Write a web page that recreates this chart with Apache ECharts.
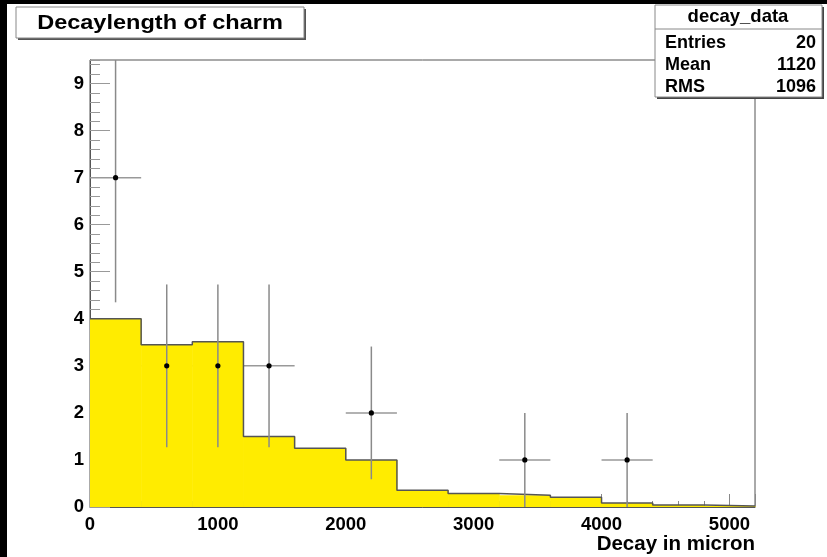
<!DOCTYPE html>
<html>
<head>
<meta charset="utf-8">
<script src="https://cdn.jsdelivr.net/npm/echarts@6/dist/echarts.min.js"></script>
<style>
html,body{margin:0;padding:0;background:#fff;}
#chart{width:827px;height:557px;}
</style>
</head>
<body>
<div id="chart"></div>
<script>
// ---- data ----
const binStarts = [0, 400, 800, 1200, 1600, 2000, 2400, 2800, 3200, 3600, 4000, 4400, 4800];
const binWidth = 400;
const histValues = [4.0, 3.45, 3.51, 1.50, 1.25, 1.0, 0.355, 0.285, 0.25, 0.206, 0.085, 0.04, 0.02];
const pointX = [200, 600, 1000, 1400, 2200, 3400, 4200];
const pointY = [7, 3, 3, 3, 2, 1, 1];
const pointErr = [2.65, 1.73, 1.73, 1.73, 1.41, 1.0, 1.0];
const titleText = 'Decaylength of charm';
const statsName = 'decay_data';
const statsLabels = ['Entries', 'Mean', 'RMS'];
const statsValues = ['20', '1120', '1096'];
const xTitle = 'Decay in micron';

const FONT = '"Liberation Sans", Arial, Helvetica, sans-serif';
const chart = echarts.init(document.getElementById('chart'));

const histData = binStarts.map((s, i) => [s, s + binWidth, histValues[i]]);
const outlineData = binStarts.map((s, i) => [s, histValues[i]]);
outlineData.push([binStarts[binStarts.length - 1] + binWidth, histValues[histValues.length - 1]]);
const errData = pointX.map((x, i) => [x, pointY[i], pointErr[i]]);
const hErrData = pointX.map((x, i) => [x, pointY[i], binWidth / 2]);

const statsGraphics = [];
statsGraphics.push({type: 'rect', shape: {x: 657, y: 7, width: 167, height: 92}, style: {fill: '#444'}, z: 50});
statsGraphics.push({type: 'rect', shape: {x: 655, y: 5, width: 167, height: 92}, style: {fill: '#fff', stroke: '#888', lineWidth: 1}, z: 51});
statsGraphics.push({type: 'line', shape: {x1: 655, y1: 29, x2: 822, y2: 29}, style: {stroke: '#888', lineWidth: 1}, z: 52});
statsGraphics.push({type: 'text', x: 738, y: 17, style: {text: statsName, font: 'bold 18.5px ' + FONT, fill: '#000', align: 'center', verticalAlign: 'middle'}, z: 52});
statsLabels.forEach((l, i) => {
  const y = 43 + i * 22;
  statsGraphics.push({type: 'text', x: 665, y: y, style: {text: l, font: 'bold 18px ' + FONT, fill: '#000', align: 'left', verticalAlign: 'middle'}, z: 52});
  statsGraphics.push({type: 'text', x: 816, y: y, style: {text: statsValues[i], font: 'bold 18px ' + FONT, fill: '#000', align: 'right', verticalAlign: 'middle'}, z: 52});
});

const option = {
  backgroundColor: '#fff',
  animation: false,
  grid: {left: 90, right: 72, top: 60, bottom: 50, show: true, borderColor: '#555', borderWidth: 1, backgroundColor: '#fff'},
  xAxis: [{
    type: 'value', min: 0, max: 5200, interval: 1000, position: 'bottom',
    name: xTitle, nameLocation: 'end', nameGap: 0,
    nameTextStyle: {fontFamily: FONT, fontWeight: 'bold', fontSize: 20.5, color: '#000', align: 'right', verticalAlign: 'top', padding: [27, 0, 0, 0]},
    axisLine: {show: true, onZero: false, lineStyle: {color: '#555', width: 1}},
    axisTick: {show: true, inside: true, length: 13, lineStyle: {color: '#888', width: 1}},
    axisLabel: {show: true, margin: 8, fontFamily: FONT, fontWeight: 'bold', fontSize: 18.5, color: '#000',
      formatter: v => (v % 1000 === 0 ? String(v) : '')},
    splitLine: {show: false}
  }, {
    type: 'value', min: 0, max: 5200, interval: 200, position: 'bottom', gridIndex: 0,
    axisLine: {show: false, onZero: false},
    axisTick: {show: true, inside: true, length: 6, lineStyle: {color: '#888', width: 1}},
    axisLabel: {show: false}, splitLine: {show: false}
  }],
  yAxis: [{
    type: 'value', min: 0, max: 9.5, interval: 1, position: 'left',
    axisLine: {show: true, onZero: false, lineStyle: {color: '#555', width: 1}},
    axisTick: {show: true, inside: true, length: 20, lineStyle: {color: '#999', width: 1}},
    axisLabel: {show: true, margin: 6, showMaxLabel: false, fontFamily: FONT, fontWeight: 'bold', fontSize: 18.5, color: '#000'},
    splitLine: {show: false}
  }, {
    type: 'value', min: 0, max: 9.5, interval: 0.2, position: 'left', gridIndex: 0,
    axisLine: {show: false, onZero: false},
    axisTick: {show: true, inside: true, length: 10, lineStyle: {color: '#999', width: 1}},
    axisLabel: {show: false}, splitLine: {show: false}
  }],
  series: [{
    name: 'hErr', type: 'custom', z: 1, xAxisIndex: 0, yAxisIndex: 0,
    data: hErrData, encode: {x: 0, y: 1},
    renderItem: function (params, api) {
      const a = api.coord([api.value(0) - api.value(2), api.value(1)]);
      const b = api.coord([api.value(0) + api.value(2), api.value(1)]);
      return {type: 'line', shape: {x1: a[0], y1: a[1], x2: b[0], y2: b[1]}, style: {stroke: '#999', lineWidth: 1.5}};
    }
  }, {
    name: 'hist', type: 'custom', z: 2, xAxisIndex: 0, yAxisIndex: 0,
    data: histData, encode: {x: [0, 1], y: 2},
    renderItem: function (params, api) {
      const p0 = api.coord([api.value(0), 0]);
      const p1 = api.coord([api.value(1), api.value(2)]);
      return {type: 'rect', shape: {x: p0[0], y: p1[1], width: p1[0] - p0[0] + 0.5, height: p0[1] - p1[1]}, style: {fill: '#ffec00', stroke: null}};
    }
  }, {
    name: 'outline', type: 'line', z: 3, step: 'end', symbol: 'none', xAxisIndex: 0, yAxisIndex: 0,
    data: outlineData, lineStyle: {color: '#555', width: 1.5}
  }, {
    name: 'vErr', type: 'custom', z: 4, xAxisIndex: 0, yAxisIndex: 0,
    data: errData, encode: {x: 0, y: 1},
    renderItem: function (params, api) {
      const cs = params.coordSys;
      const c = api.coord([api.value(0), api.value(1)]);
      const lo = api.coord([api.value(0), api.value(1) - api.value(2)]);
      const hi = api.coord([api.value(0), api.value(1) + api.value(2)]);
      const yTop = Math.max(hi[1], cs.y);
      const yBot = Math.min(lo[1], cs.y + cs.height);
      return {type: 'group', children: [
        {type: 'line', shape: {x1: c[0], y1: yBot, x2: c[0], y2: yTop}, style: {stroke: '#8a8a8a', lineWidth: 1.5}},
        {type: 'circle', shape: {cx: c[0], cy: c[1], r: 2.6}, style: {fill: '#000'}}
      ]};
    }
  }],
  graphic: [
    {type: 'rect', shape: {x: 0, y: 0, width: 7, height: 557}, style: {fill: '#000'}, z: 100},
    {type: 'rect', shape: {x: 0, y: 0, width: 827, height: 4}, style: {fill: '#000'}, z: 100},
    {type: 'rect', shape: {x: 18, y: 9, width: 288, height: 31}, style: {fill: '#555'}, z: 50},
    {type: 'rect', shape: {x: 16, y: 7, width: 288, height: 31}, style: {fill: '#fff', stroke: '#888', lineWidth: 1}, z: 51},
    {type: 'text', x: 160, y: 23, scaleX: 1.12, style: {text: titleText, font: 'bold 21px ' + FONT, fill: '#000', align: 'center', verticalAlign: 'middle'}, z: 52}
  ].concat(statsGraphics)
};
chart.setOption(option);
</script>
</body>
</html>
